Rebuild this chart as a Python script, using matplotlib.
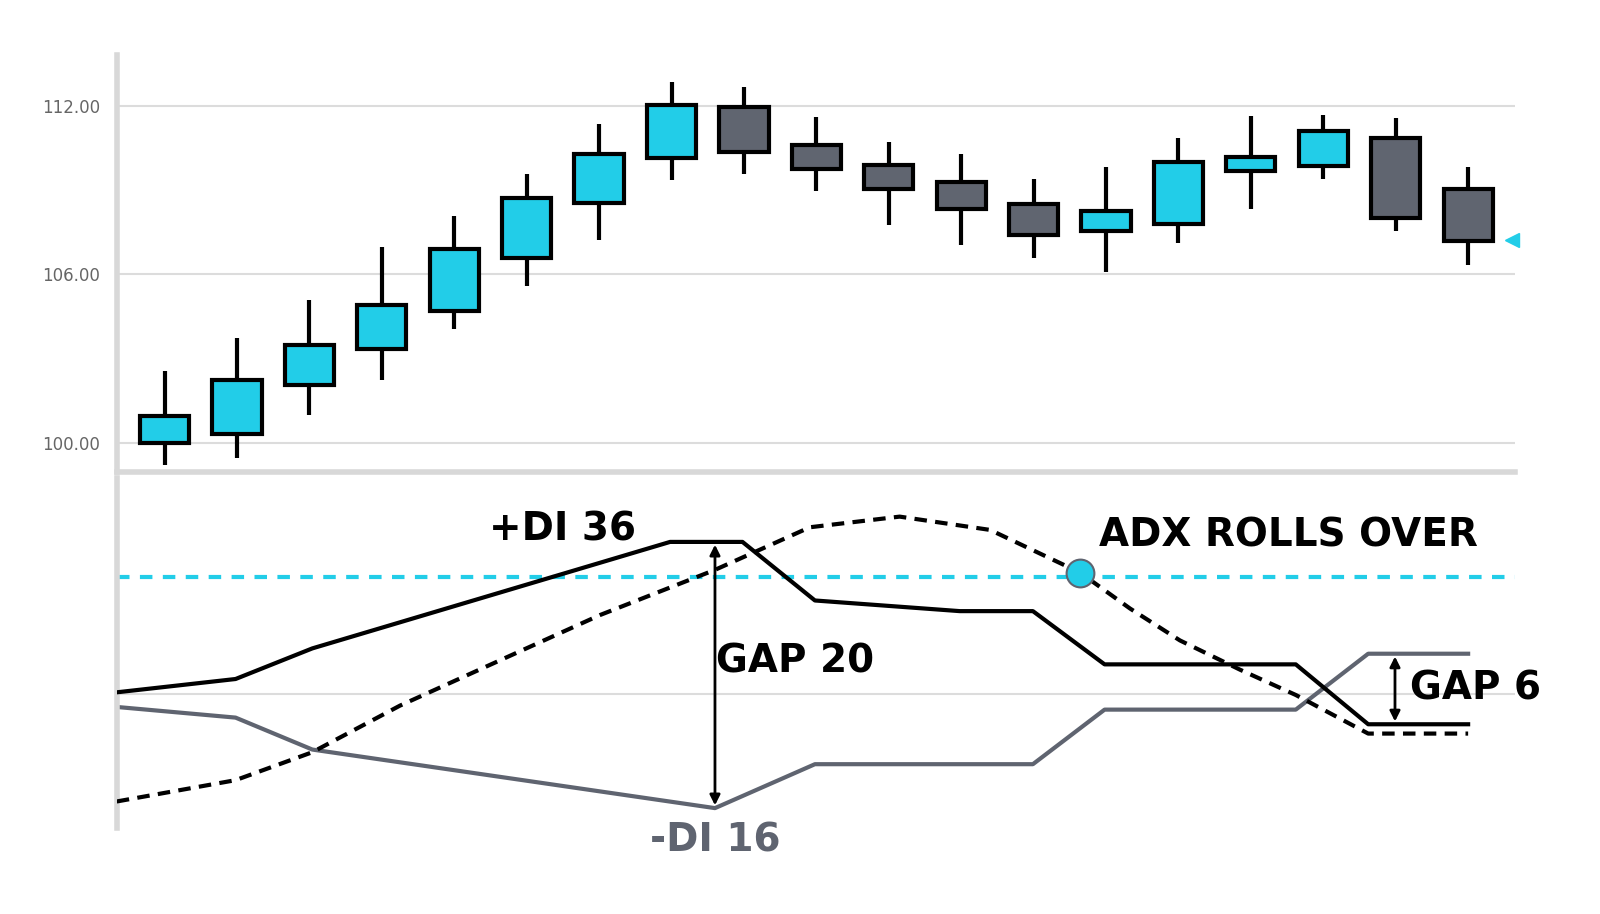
import matplotlib.pyplot as plt
from matplotlib.patches import Rectangle
import numpy as np

# candle data (open, close, high, low)
opens  = [100.0, 100.32, 102.09, 103.34, 104.72, 106.6, 108.55, 110.15, 111.96, 110.61,
          109.9, 109.27, 108.52, 107.53, 107.81, 109.69, 109.87, 110.86, 109.05]
closes = [100.96, 102.24, 103.51, 104.9, 106.89, 108.73, 110.29, 112.03, 110.36, 109.73,
          109.02, 108.34, 107.42, 108.27, 110.01, 110.19, 111.08, 108.02, 107.2]
highs  = [102.56, 103.73, 105.11, 106.99, 108.09, 109.58, 111.36, 112.85, 112.67, 111.6,
          110.69, 110.29, 109.4, 109.83, 110.86, 111.64, 111.68, 111.57, 109.8]
lows   = [99.25, 99.5, 101.0, 102.27, 104.08, 105.6, 107.24, 109.34, 109.58, 108.95,
          107.74, 107.06, 106.6, 106.1, 107.13, 108.34, 109.4, 107.53, 106.35]
last_price = 107.24

# DMI / ADX lines (x in candle index units)
pdi_x = [-0.66, 0.98, 2.04, 6.98, 7.98, 8.98, 10.98, 11.99, 12.98, 15.62, 16.62, 18.0]
pdi_y = [24.7, 25.7, 28.0, 36.0, 36.0, 31.6, 30.8, 30.8, 26.8, 26.8, 22.3, 22.3]
mdi_x = [-0.66, 0.98, 2.04, 7.6, 8.98, 11.99, 12.98, 15.62, 16.62, 18.0]
mdi_y = [23.6, 22.8, 20.4, 16.0, 19.3, 19.3, 23.4, 23.4, 27.6, 27.6]
adx_x = [-0.66, 0.98, 2.04, 3.25, 4.63, 6.01, 7.6, 8.91, 10.15, 11.4, 12.64, 13.33,
         14.02, 14.85, 15.62, 16.62, 18.0]
adx_y = [16.5, 18.1, 20.2, 23.7, 27.1, 30.5, 33.9, 37.1, 37.9, 36.9, 33.7, 31.0,
         28.6, 26.4, 24.5, 21.6, 21.6]
adx_level = 33.4
mid_level = 24.6

CYAN = '#22cde8'
DARK = '#606570'
GREY = '#5f6470'
FONT = ['Liberation Sans Narrow', 'DejaVu Sans']

fig = plt.figure(figsize=(16, 9.14), dpi=100)
ax1 = fig.add_axes([0.073, 0.484, 0.874, 0.456])
ax2 = fig.add_axes([0.073, 0.094, 0.874, 0.383], sharex=ax1)

w = 0.68
for i, (o, c, h, l) in enumerate(zip(opens, closes, highs, lows)):
    col = CYAN if c >= o else DARK
    ax1.plot([i, i], [l, h], color='black', lw=3, zorder=2, solid_capstyle='butt')
    ax1.add_patch(Rectangle((i - w / 2, min(o, c)), w, abs(c - o), facecolor=col,
                            edgecolor='black', lw=3, zorder=3))
ax1.plot(18.6, last_price, marker='<', color=CYAN, ms=10, clip_on=False)

ax1.set_xlim(-0.66, 18.65)
ax1.set_ylim(99.0, 113.8)
ax1.set_yticks([100, 106, 112])
ax1.set_yticklabels(['100.00', '106.00', '112.00'])
ax1.grid(axis='y', color='#dcdcdc', lw=1.5)
ax1.tick_params(axis='y', length=0, labelsize=12, labelcolor='#666666', pad=12)
ax1.tick_params(axis='x', length=0, labelbottom=False)
for s in ['top', 'right']:
    ax1.spines[s].set_visible(False)
ax1.spines['left'].set_color('#d8d8d8')
ax1.spines['left'].set_linewidth(4)
ax1.spines['bottom'].set_color('#d8d8d8')
ax1.spines['bottom'].set_linewidth(4)

ax2.set_ylim(14.5, 40.8)
ax2.axhline(mid_level, color='#dcdcdc', lw=1.5, zorder=0)
ax2.axhline(adx_level, color=CYAN, lw=3, ls=(0, (3, 2.5)), zorder=1)
ax2.plot(mdi_x, mdi_y, color=GREY, lw=3, zorder=2)
ax2.plot(pdi_x, pdi_y, color='black', lw=3, zorder=3)
ax2.plot(adx_x, adx_y, color='black', lw=3, ls=(0, (3, 2)), zorder=3)
ax2.plot(12.64, 33.7, 'o', ms=20, color=CYAN, mec=GREY, mew=1.5, zorder=5)

ax2.annotate('', xy=(7.6, 36.0), xytext=(7.6, 16.0),
             arrowprops=dict(arrowstyle='<|-|>', color='black', lw=2, mutation_scale=15))
ax2.annotate('', xy=(16.99, 27.6), xytext=(16.99, 22.3),
             arrowprops=dict(arrowstyle='<|-|>', color='black', lw=2, mutation_scale=15))

tk = dict(family=FONT, fontweight='bold', fontsize=28)
ax2.text(5.5, 36.9, '+DI 36', ha='center', va='center', color='black', **tk)
ax2.text(7.6, 13.6, '-DI 16', ha='center', va='center', color=GREY, **tk)
ax2.text(8.7, 27.0, 'GAP 20', ha='center', va='center', color='black', **tk)
ax2.text(17.2, 25.0, 'GAP 6', ha='left', va='center', color='black', **tk)
ax2.text(12.9, 36.5, 'ADX ROLLS OVER', ha='left', va='center', color='black', **tk)

ax2.set_yticks([])
ax2.tick_params(axis='x', length=0, labelbottom=False)
for s in ['top', 'right', 'bottom']:
    ax2.spines[s].set_visible(False)
ax2.spines['left'].set_color('#d8d8d8')
ax2.spines['left'].set_linewidth(4)

fig.savefig('out.png', dpi=100)
